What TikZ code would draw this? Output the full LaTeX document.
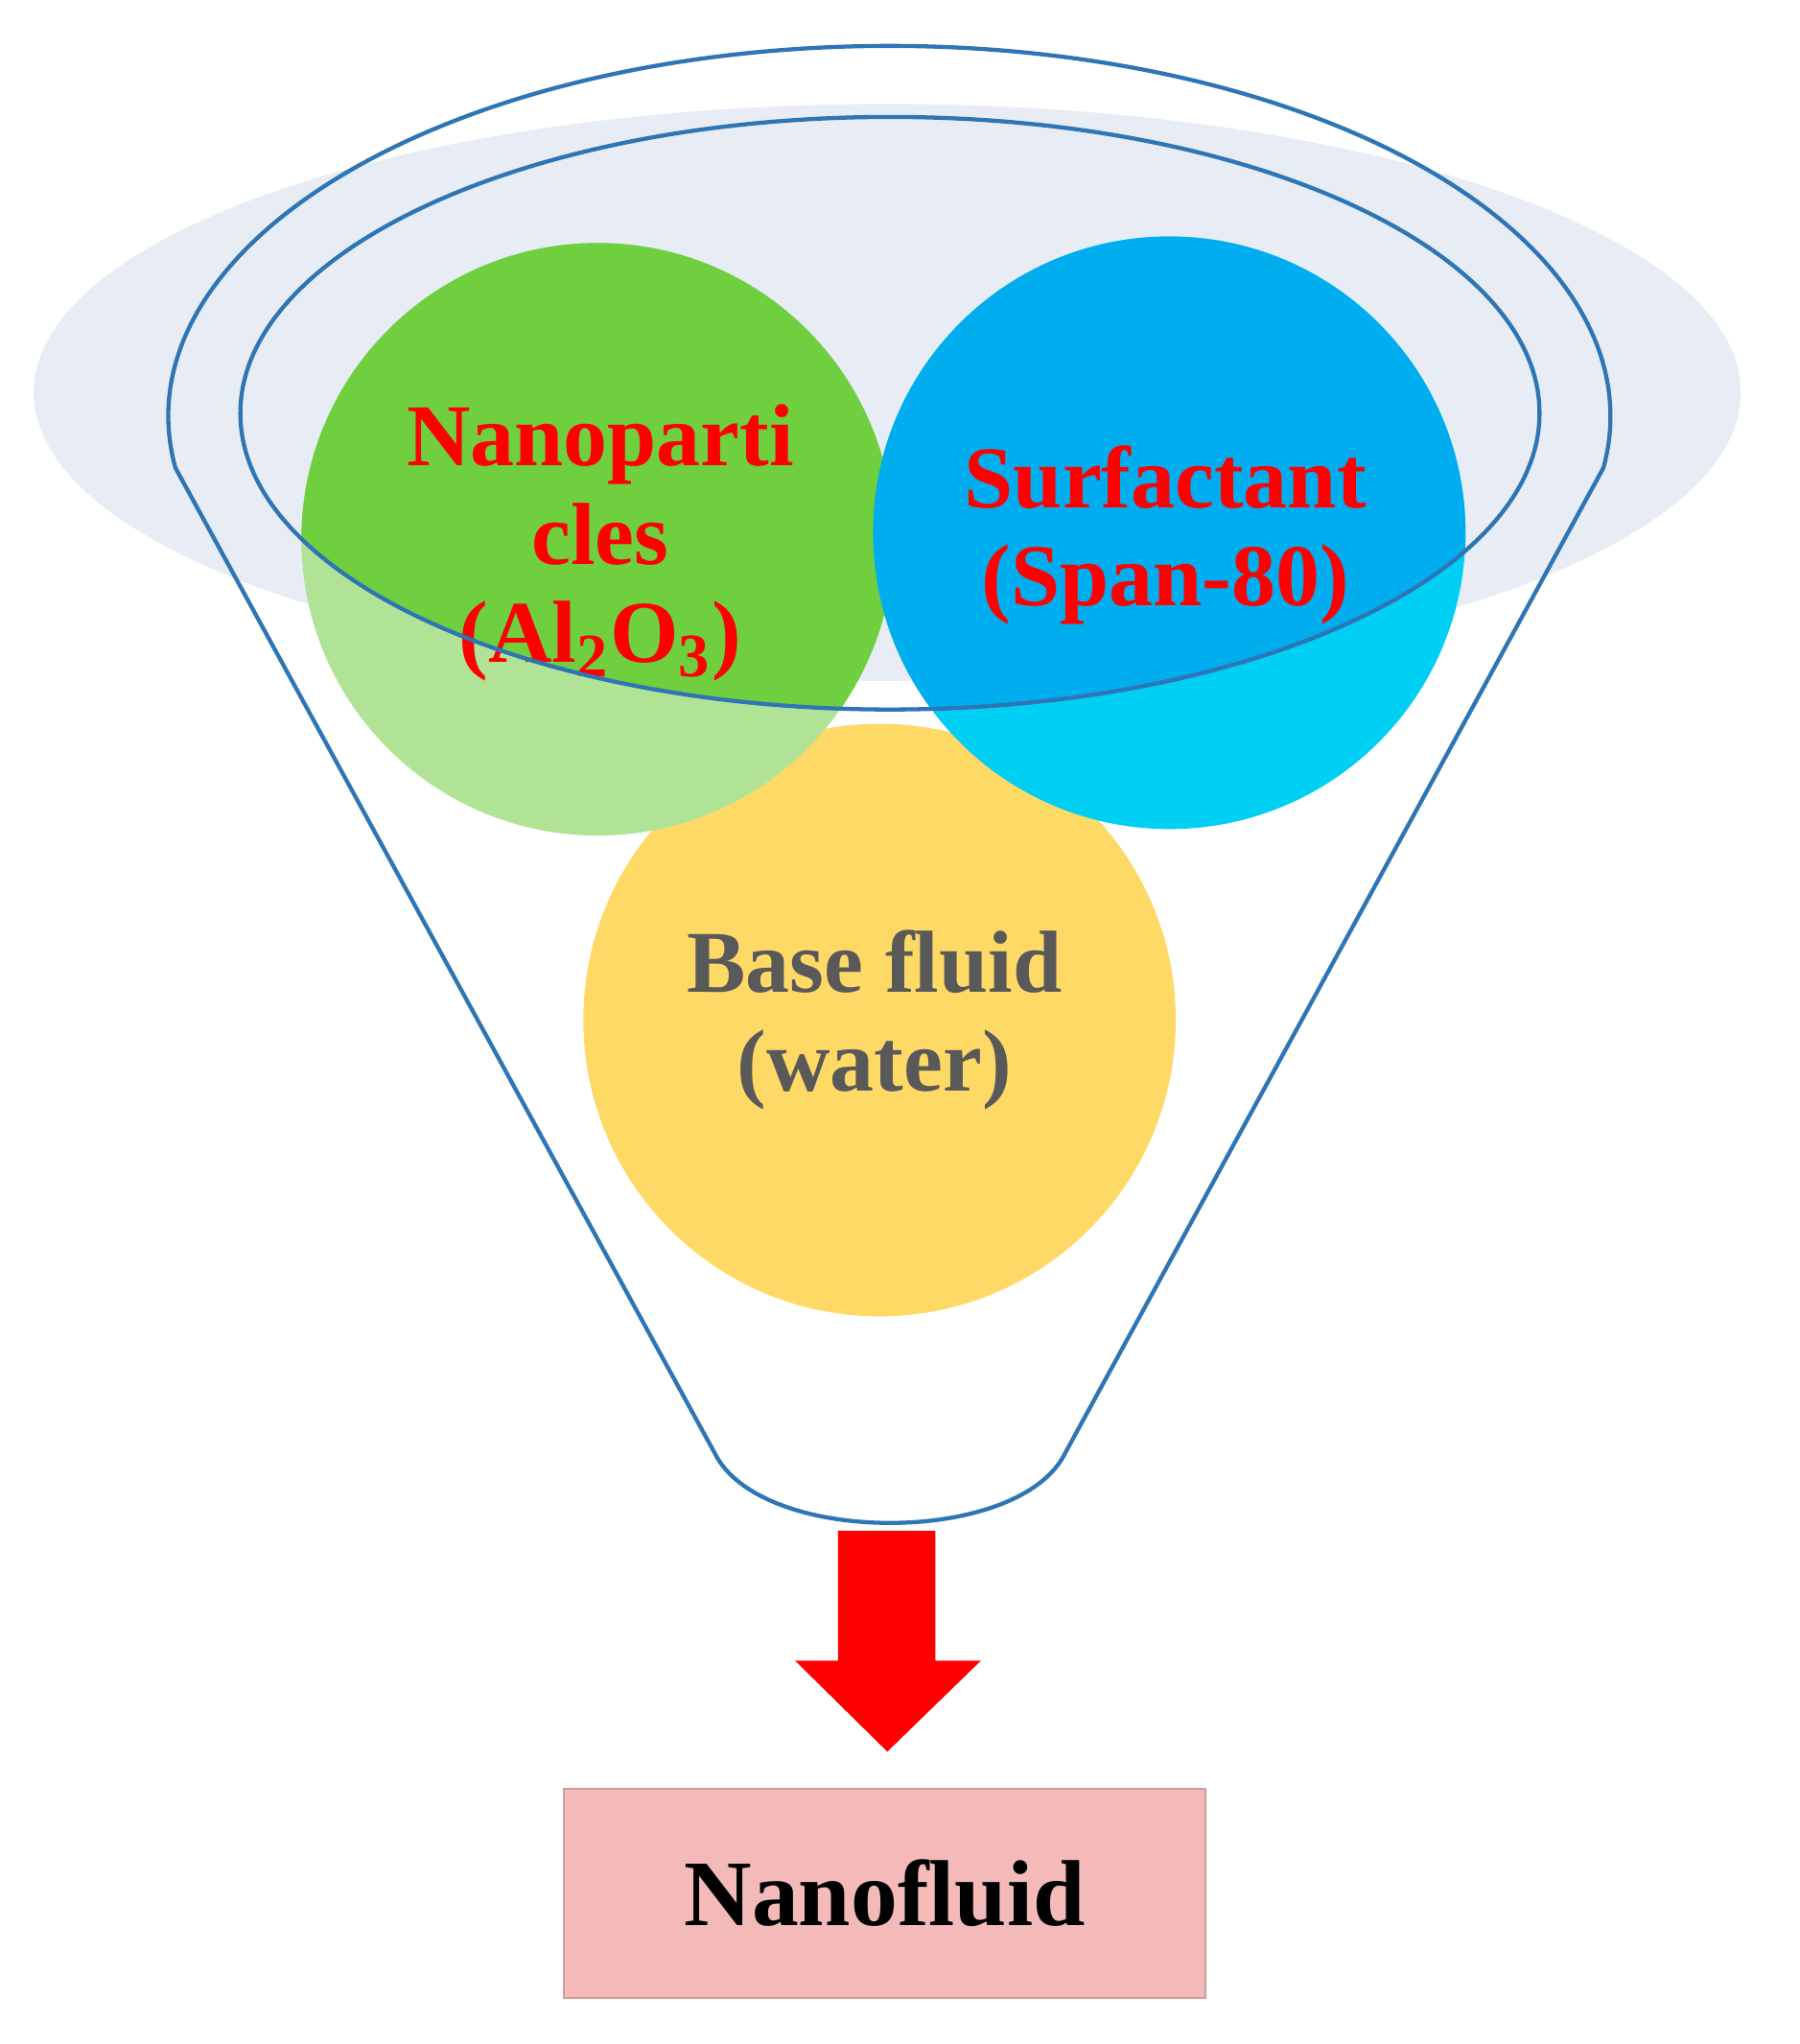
\documentclass[tikz,border=0pt]{standalone}
\usepackage{fontspec}
\setmainfont{Liberation Serif}
\begin{document}
\begin{tikzpicture}[x=0.01cm,y=-0.01cm,
  funnel/.style={draw=funblue,line width=0.9pt},
  lbl/.style={font=\fontsize{19.3}{21.5}\selectfont\bfseries,align=center}]
\definecolor{funblue}{HTML}{2E75B6}
\definecolor{bg}{HTML}{E3E9F3}
\definecolor{gdark}{HTML}{6FCF3F}
\definecolor{glight}{HTML}{B1E396}
\definecolor{bdark}{HTML}{00AEEF}
\definecolor{blight}{HTML}{00CFF4}
\definecolor{yel}{HTML}{FFD966}
\definecolor{boxfill}{HTML}{F4B9B9}
\definecolor{txtgrey}{HTML}{595959}
\useasboundingbox (0,0) rectangle (1385,1573);
\fill[bg,opacity=0.85] (683,302) ellipse [x radius=657,y radius=222];
% circles
\fill[yel] (677,785) circle (228);
\fill[glight] (460,415) circle (228);
\fill[blight] (900,410) circle (228);
\begin{scope}
\clip (685,318) ellipse [x radius=500,y radius=228];
\fill[gdark] (460,415) circle (228);
\fill[bdark] (900,410) circle (228);
\end{scope}
\node[circle,minimum size=4.56cm] (np) at (460,415) {};
\node[circle,minimum size=4.56cm] (sf) at (900,410) {};
\node[circle,minimum size=4.56cm] (bf) at (677,785) {};
\node[lbl,text=red] at (462,418) {Nanoparti\\cles\\(Al\textsubscript{2}O\textsubscript{3})};
\node[lbl,text=red] at (897,412) {Surfactant\\(Span-80)};
\node[lbl,text=txtgrey] at (673,785) {Base fluid\\(water)};
% funnel
\draw[funnel] (685,318) ellipse [x radius=500,y radius=228];
\draw[funnel] (135,360) arc[start angle=172,end angle=368,x radius=555,y radius=285]
  -- (820,1118) .. controls (785,1190) and (585,1190) .. (550,1118) -- cycle;
% arrow and result
\node[draw=boxfill!85!black,fill=boxfill,minimum width=4.93cm,minimum height=1.61cm,
  font=\fontsize{20.5}{22}\selectfont\bfseries] (nf) at (681,1457) {Nanofluid};
\fill[red] (645,1178) -- (720,1178) -- (720,1278) -- (755,1278) -- (683,1348)
  -- (612,1278) -- (645,1278) -- cycle;
\end{tikzpicture}
\end{document}
